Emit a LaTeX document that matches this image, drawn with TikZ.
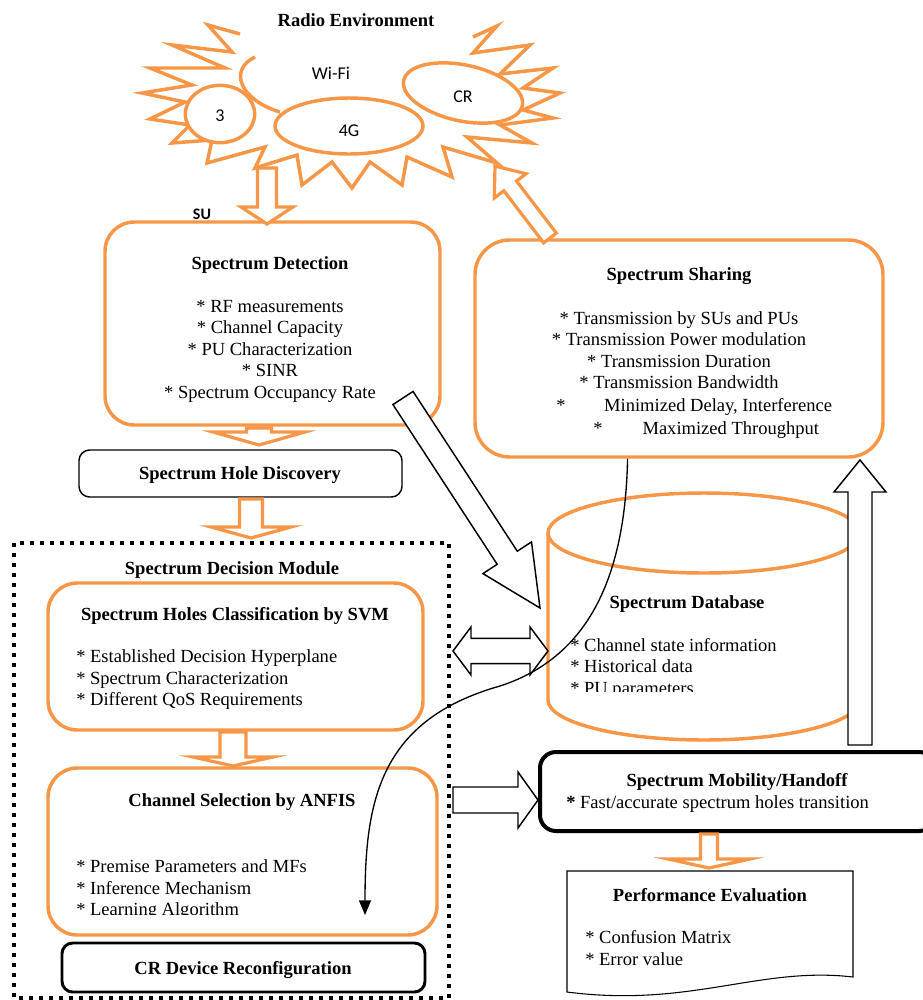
\documentclass[tikz,border=0pt]{standalone}
\usepackage{fontspec}
\setmainfont{Liberation Serif}
\newfontfamily\labelfont{Carlito}
\definecolor{EnvOrange}{RGB}{247,150,70}
\usetikzlibrary{calc, fit, positioning, shapes.geometric, arrows.meta}

\tikzset{
  orangebox/.style={draw=EnvOrange, line width=2.6pt, rounded corners=22pt, inner sep=0pt, fill=white},
  blackbox/.style={draw=black, line width=1.1pt, rounded corners=8pt, inner sep=0pt, fill=white},
  title/.style={font=\bfseries\fontsize{13.9}{16.1}\selectfont, inner sep=0pt},
  items/.style={font=\fontsize{13.9}{16.1}\selectfont, inner sep=0pt, align=left},
  orangearrow/.style={draw=EnvOrange, line width=2.4pt, fill=white},
  hollowarrow/.style={draw=black, line width=1.1pt, fill=white},
  envline/.style={draw=EnvOrange, line width=2.6pt},
  envellipse/.style={ellipse, draw=EnvOrange, line width=2.6pt, fill=white, inner sep=0pt},
  envlabel/.style={font=\labelfont\fontsize{13.5}{15}\selectfont, inner sep=0pt},
}

% block arrow: style, from, to, shaft half width, head half width, head length
\newcommand\blockarrow[6]{%
  \coordinate (head) at ($(#3)!#6!(#2)$);
  \draw[#1] ($(#2)!#4!90:(#3)$) -- ($(head)!#4!90:(#3)$) -- ($(head)!#5!90:(#3)$) -- (#3)
    -- ($(head)!#5!-90:(#3)$) -- ($(head)!#4!-90:(#3)$) -- ($(#2)!#4!-90:(#3)$) -- cycle;
}
% double headed block arrow
\newcommand\dblarrow[6]{%
  \coordinate (heada) at ($(#2)!#6!(#3)$);
  \coordinate (headb) at ($(#3)!#6!(#2)$);
  \draw[#1] (#2) -- ($(heada)!#5!90:(#3)$) -- ($(heada)!#4!90:(#3)$) -- ($(headb)!#4!90:(#3)$)
    -- ($(headb)!#5!90:(#3)$) -- (#3) -- ($(headb)!#5!-90:(#3)$) -- ($(headb)!#4!-90:(#3)$)
    -- ($(heada)!#4!-90:(#3)$) -- ($(heada)!#5!-90:(#3)$) -- cycle;
}

\begin{document}
\begin{tikzpicture}[x=0.75pt, y=-0.75pt]
\useasboundingbox (0,0) rectangle (923,1000);

% decision module frame
\draw[line width=3pt, dash pattern=on 3pt off 4.5pt] (14,543) rectangle (449,998);

% radio environment
\node[title] (radio) at (356,20) {Radio Environment};
\draw[envline] (240,34) -- (208,25) -- (232,52) -- (172,45) -- (225,68) -- (150,68) -- (192,85)
  -- (142,93) -- (185,102) -- (150,119) -- (190,125) -- (172,143) -- (212,140) -- (207,163)
  -- (265,147) -- (255,168) -- (297,155) -- (302,185) -- (332,162) -- (352,188) -- (370,162)
  -- (402,185) -- (407,157) -- (452,177) -- (443,147) -- (497,163) -- (467,137) -- (532,143)
  -- (500,125) -- (553,118) -- (523,110) -- (560,93) -- (523,88) -- (553,68) -- (500,74)
  -- (530,45) -- (473,53) -- (497,26) -- (473,37);
\draw[envline] (255,57) .. controls (228,70) and (240,100) .. (280,112);
\node[envlabel] (wifi) at (331,73) {Wi-Fi};
\node[envellipse, minimum width=52pt, minimum height=43pt] (three) at (220,114) {};
\node[envlabel] at (220,116) {3};
\node[envellipse, minimum width=111pt, minimum height=42pt] (fourg) at (349,126) {};
\node[envlabel] at (349,131) {4G};
\node[envellipse, minimum width=91pt, minimum height=42pt, rotate=-12] (cr) at (463,93) {};
\node[envlabel] at (463,97) {CR};
\node[font=\labelfont\bfseries\fontsize{12}{14}\selectfont, inner sep=0pt] (su) at (202,214) {SU};

% boxes
\node[orangebox, fit={(105,222) (440,425)}] (detect) {};
\node[orangebox, rounded corners=26pt, fit={(475,240) (883,457)}] (sharing) {};
\node[blackbox, fit={(79,450) (402,497)}] (hole) {};
\node[orangebox, fit={(48,583) (423,730)}] (svm) {};
\node[orangebox, fit={(48,768) (437,935)}] (anfis) {};
\node[blackbox, line width=2.2pt, fit={(62,943) (425,992)}] (crdev) {};
\node[blackbox, line width=3pt, rounded corners=12pt, fit={(540,752) (935,831)}] (mobility) {};

% database cylinder
\draw[envline, fill=white] (548,533) -- (548,700) .. controls (548,722) and (618,740) .. (704,740)
  .. controls (790,740) and (860,722) .. (860,700) -- (860,533);
\draw[envline] (548,533) .. controls (548,511) and (618,493) .. (704,493) .. controls (790,493) and (860,511) .. (860,533)
  .. controls (860,555) and (790,573) .. (704,573) .. controls (618,573) and (548,555) .. (548,533) -- cycle;

% performance evaluation
\draw[line width=0.8pt, fill=white] (567,871) -- (853,871) -- (853,977) .. controls (760,966) and (690,1008) .. (567,992) -- cycle;

% texts
\node[title] (holetitle) at (240,475) {Spectrum Hole Discovery};
\node[title] (crdevtitle) at (243,970) {CR Device Reconfiguration};

\node[title] (detecttitle) at (270,265) {Spectrum Detection};
\node[items, align=center] (detectitems) at (270,351) {* RF measurements\\* Channel Capacity\\* PU Characterization\\* SINR\\* Spectrum Occupancy Rate};

\node[title] (sharingtitle) at (679,276) {Spectrum Sharing};
\node[items, align=center] (sharingitems) at (679,350) {* Transmission by SUs and PUs\\* Transmission Power modulation\\* Transmission Duration\\* Transmission Bandwidth};
\node[items, anchor=west] (delay) at (556,407) {*\hspace{29pt}Minimized Delay, Interference};
\node[items, anchor=west] (throughput) at (593,430) {*\hspace{30pt}Maximized Throughput};

\node[title] (module) at (232,570) {Spectrum Decision Module};
\node[title] (svmtitle) at (235,616) {Spectrum Holes Classification by SVM};
\node[items, anchor=west] (svmitems) at (76,680) {* Established Decision Hyperplane\\* Spectrum Characterization\\* Different QoS Requirements};
\node[title] (anfistitle) at (242,802) {Channel Selection by ANFIS};
\begin{scope}
  \clip (48,840) rectangle (437,914);
  \node[items, anchor=west] (anfisitems) at (76,890) {* Premise Parameters and MFs\\* Inference Mechanism\\* Learning Algorithm};
\end{scope}

\node[title] (dbtitle) at (687,604) {Spectrum Database};
\begin{scope}
  \clip (548,620) rectangle (860,691);
  \node[items, anchor=west] (dbitems) at (570,668) {* Channel state information\\* Historical data\\* PU parameters};
\end{scope}

\node[title] (mobtitle) at (737,782) {Spectrum Mobility/Handoff};
\node[items, anchor=west] (mobitem) at (566,804) {\textbf{*} Fast/accurate spectrum holes transition};

\node[title] (perftitle) at (710,895) {Performance Evaluation};
\node[items, anchor=west] (perfitems) at (585,948) {* Confusion Matrix\\* Error value};

% orange arrows
\coordinate (su-from) at (267,168);
\coordinate (su-to) at (267,224);
\blockarrow{orangearrow}{su-from}{su-to}{7.1pt}{19.5pt}{12.75pt}
\coordinate (detect-out) at (259,428);
\coordinate (hole-in) at (259,445);
\blockarrow{orangearrow}{detect-out}{hole-in}{9.4pt}{34.5pt}{9.75pt}
\coordinate (hole-out) at (251,499);
\coordinate (module-in) at (251,538);
\blockarrow{orangearrow}{hole-out}{module-in}{8.6pt}{30pt}{8.25pt}
\coordinate (svm-out) at (233,732);
\coordinate (anfis-in) at (233,766);
\blockarrow{orangearrow}{svm-out}{anfis-in}{9.75pt}{30pt}{6.75pt}
\coordinate (mob-out) at (709,834);
\coordinate (perf-in) at (709,868);
\blockarrow{orangearrow}{mob-out}{perf-in}{6.4pt}{30.75pt}{6.75pt}
\coordinate (share-out) at (550,238);
\coordinate (radio-in) at (495,166);
\blockarrow{orangearrow}{share-out}{radio-in}{6pt}{15pt}{18.75pt}

% black arrows
\coordinate (detect-db) at (403,398);
\coordinate (db-in) at (540,608);
\blockarrow{hollowarrow}{detect-db}{db-in}{9pt}{21.75pt}{45pt}
\coordinate (module-db) at (453,651);
\coordinate (db-left) at (548,651);
\dblarrow{hollowarrow}{module-db}{db-left}{9.4pt}{18pt}{13.5pt}
\coordinate (anfis-mob) at (453,800);
\coordinate (mob-in) at (538,800);
\blockarrow{hollowarrow}{anfis-mob}{mob-in}{9.75pt}{21pt}{15pt}
\coordinate (mob-up) at (860,745);
\coordinate (share-in) at (860,460);
\blockarrow{hollowarrow}{mob-up}{share-in}{9pt}{19.5pt}{24pt}

% reconfiguration feedback
\coordinate (reconf) at (365,915);
\draw[line width=1pt, -{Triangle[length=11pt, width=9pt]}] ($(sharing.south west)!0.375!(sharing.south east)$)
  .. controls (625,590) and (580,660) .. (500,686) .. controls (380,720) and (365,800) .. (reconf);

\end{tikzpicture}
\end{document}
